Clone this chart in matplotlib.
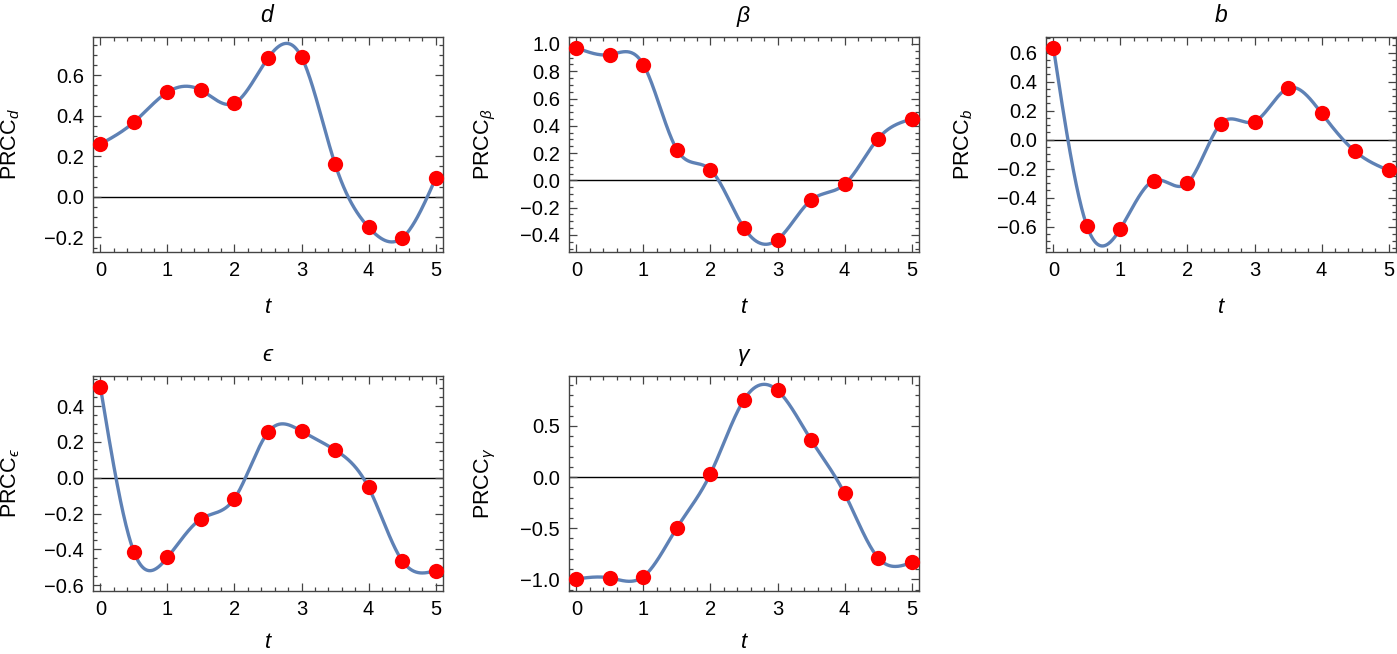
import numpy as np
import matplotlib.pyplot as plt
from matplotlib.ticker import MultipleLocator, FuncFormatter

plt.rcParams['font.family'] = ['Liberation Sans', 'DejaVu Sans']
plt.rcParams['mathtext.fontset'] = 'custom'
plt.rcParams['mathtext.rm'] = 'Liberation Sans'
plt.rcParams['mathtext.it'] = 'Liberation Sans:italic'
plt.rcParams['mathtext.fallback'] = 'stixsans'

# sample times
t = [0, 0.5, 1, 1.5, 2, 2.5, 3, 3.5, 4, 4.5, 5]

# PRCC values
prcc_d = [0.26, 0.368, 0.516, 0.526, 0.462, 0.684, 0.689, 0.162, -0.150, -0.203, 0.091]
prcc_beta = [0.973, 0.922, 0.848, 0.225, 0.078, -0.348, -0.434, -0.145, -0.029, 0.306, 0.449]
prcc_b = [0.635, -0.595, -0.614, -0.282, -0.300, 0.111, 0.125, 0.355, 0.182, -0.081, -0.212]
prcc_eps = [0.507, -0.413, -0.445, -0.230, -0.116, 0.254, 0.260, 0.155, -0.054, -0.462, -0.518]
prcc_gamma = [-0.996, -0.986, -0.973, -0.495, 0.033, 0.757, 0.848, 0.364, -0.160, -0.789, -0.835]

titles = ['d', r'\beta', 'b', '\u03f5', r'\gamma']
series = [prcc_d, prcc_beta, prcc_b, prcc_eps, prcc_gamma]
ylims = [(-0.272, 0.788), (-0.525, 1.051), (-0.775, 0.708), (-0.632, 0.568), (-1.114, 0.989)]
ymajor = [0.2, 0.2, 0.2, 0.2, 0.5]
yminor = [0.05, 0.05, 0.05, 0.05, 0.1]

# panel frames in pixels: left, top, width, height
W, H = 1397, 654
frames = [(93, 37), (569, 37), (1046, 37), (93, 376), (569, 376)]
fw, fh = 350, 215

LINE = '#5E81B5'
FRAME = '#444444'


def natural_spline(x, y, xs):
    x = np.asarray(x, float)
    y = np.asarray(y, float)
    n = len(x)
    h = np.diff(x)
    A = np.zeros((n, n))
    r = np.zeros(n)
    A[0, 0] = A[-1, -1] = 1
    for i in range(1, n - 1):
        A[i, i - 1] = h[i - 1]
        A[i, i] = 2 * (h[i - 1] + h[i])
        A[i, i + 1] = h[i]
        r[i] = 3 * ((y[i + 1] - y[i]) / h[i] - (y[i] - y[i - 1]) / h[i - 1])
    c = np.linalg.solve(A, r)
    b = (y[1:] - y[:-1]) / h - h * (2 * c[:-1] + c[1:]) / 3
    d = (c[1:] - c[:-1]) / (3 * h)
    idx = np.clip(np.searchsorted(x, xs) - 1, 0, n - 2)
    dx = xs - x[idx]
    return y[idx] + b[idx] * dx + c[idx] * dx ** 2 + d[idx] * dx ** 3


def fmt(v, pos):
    s = '%.1f' % v
    if s == '-0.0':
        s = '0.0'
    return s.replace('-', '\u2212')


fig = plt.figure(figsize=(W / 100, H / 100), dpi=100)

for k, vals in enumerate(series):
    px, py = frames[k]
    ax = fig.add_axes([px / W, 1 - (py + fh) / H, fw / W, fh / H])

    ts = np.linspace(t[0], t[-1], 500)
    ax.axhline(0, color='black', lw=1.0, zorder=1)
    ax.plot(ts, natural_spline(t, vals, ts), color=LINE, lw=2.4, zorder=2)
    ax.plot(t, vals, 'o', color='#FF0000', ms=11, mec='none', zorder=3, clip_on=False)

    ax.set_xlim(-0.11, 5.11)
    ax.set_ylim(*ylims[k])
    ax.xaxis.set_major_locator(MultipleLocator(1))
    ax.xaxis.set_minor_locator(MultipleLocator(0.2))
    ax.yaxis.set_major_locator(MultipleLocator(ymajor[k]))
    ax.yaxis.set_minor_locator(MultipleLocator(yminor[k]))
    ax.yaxis.set_major_formatter(FuncFormatter(fmt))

    ax.tick_params(which='both', direction='in', top=True, right=True,
                   color=FRAME, width=0.9)
    ax.tick_params(which='major', length=6, pad=6.5, labelsize=14.5)
    ax.tick_params(which='minor', length=3)
    for s in ax.spines.values():
        s.set_color(FRAME)
        s.set_linewidth(1.0)

    ax.set_title('$' + titles[k] + '$', fontsize=16.5, pad=11)
    ax.set_xlabel('$t$', fontsize=16, labelpad=12 if py < 100 else 9)
    ax.set_ylabel(r'$\mathrm{PRCC}_{' + titles[k] + '}$', fontsize=15.5)
    ax.yaxis.set_label_coords(-0.203, 0.5)

fig.savefig('out.png', dpi=100)
